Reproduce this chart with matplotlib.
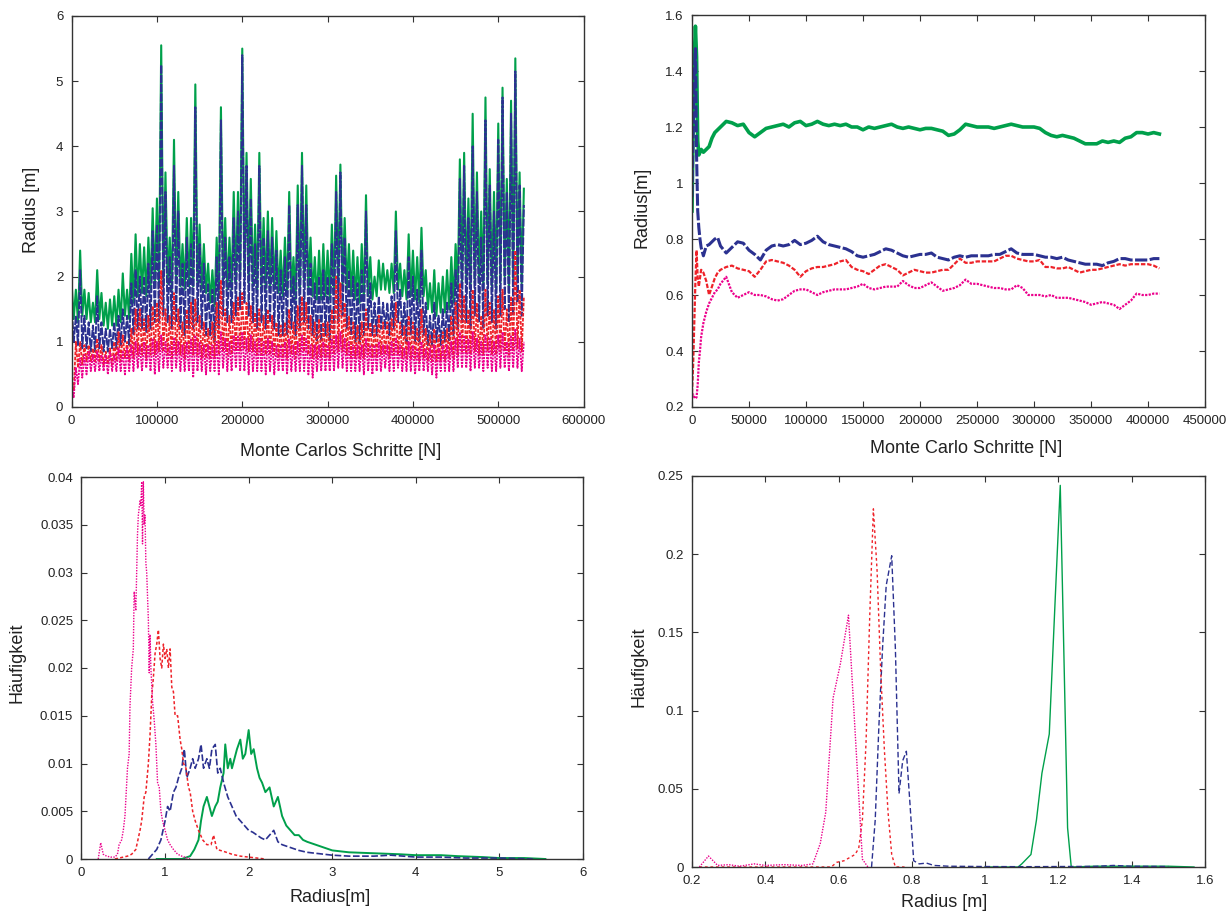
import numpy as np
import matplotlib
matplotlib.use("Agg")
import matplotlib.pyplot as plt

plt.rcParams['font.family'] = ['Liberation Sans', 'DejaVu Sans']

# ---------------- colours ----------------
C_GREEN = '#00A04B'
C_BLUE = '#2B3190'
C_RED = '#EE2229'
C_MAG = '#EC008C'

# ---------------- panel 1: raw Monte Carlo traces (max / min per 5000 steps) ----------------
trace_bin = 5000
green_hi = [1.9, 1.8, 2.4, 1.8, 1.75, 1.6, 2.1, 1.75, 1.6, 1.65,
            1.7, 1.8, 2.05, 1.8, 2.35, 2.65, 2.5, 2.45, 2.6, 3.05,
            3.2, 5.55, 3.6, 2.6, 4.1, 3.3, 2.5, 2.9, 2.9, 4.95,
            2.8, 2.5, 2.2, 2.1, 2.6, 4.6, 2.9, 2.6, 3.3, 3.3,
            5.5, 3.9, 3.5, 2.8, 3.9, 2.9, 3.0, 2.9, 2.7, 2.4,
            2.6, 3.3, 2.3, 3.4, 3.9, 3.4, 2.6, 2.3, 2.4, 2.5,
            2.4, 2.8, 3.55, 3.72, 2.9, 2.5, 2.4, 2.3, 2.5, 3.25,
            2.3, 2.0, 2.25, 2.2, 2.1, 2.2, 3.0, 2.2, 2.1, 2.65,
            2.4, 2.3, 2.75, 2.1, 1.9, 2.1, 1.9, 2.0, 2.1, 2.3,
            2.5, 3.8, 3.9, 3.2, 4.5, 3.6, 3.0, 4.75, 3.65, 3.3,
            4.35, 4.9, 3.5, 4.7, 5.35, 3.6, 3.35]
green_lo = [1.35, 1.3, 1.4, 1.35, 1.3, 1.3, 1.35, 1.25, 1.2, 1.25,
            1.25, 1.3, 1.4, 1.35, 1.6, 1.7, 1.75, 1.7, 1.8, 1.85,
            1.9, 1.9, 1.9, 1.8, 1.9, 1.85, 1.8, 1.85, 1.85, 1.9,
            1.8, 1.75, 1.6, 1.55, 1.7, 1.9, 1.8, 1.8, 1.9, 2.0,
            2.0, 1.9, 1.85, 1.8, 1.85, 1.8, 1.8, 1.8, 1.75, 1.7,
            1.7, 1.75, 1.65, 1.75, 1.85, 1.8, 1.7, 1.65, 1.65, 1.7,
            1.65, 1.75, 1.85, 1.85, 1.8, 1.7, 1.65, 1.6, 1.65, 1.7,
            1.65, 1.7, 1.8, 1.8, 1.75, 1.75, 1.8, 1.7, 1.65, 1.7,
            1.65, 1.6, 1.7, 1.5, 1.45, 1.4, 1.45, 1.45, 1.5, 1.6,
            1.8, 1.9, 1.9, 1.8, 1.9, 1.9, 1.8, 1.9, 1.85, 1.8,
            1.9, 2.0, 1.85, 1.9, 2.0, 1.9, 1.9]
blue_hi = [1.6, 1.4, 2.1, 1.4, 1.3, 1.25, 1.7, 1.3, 1.2, 1.2,
           1.3, 1.4, 1.5, 1.4, 1.9, 2.1, 2.0, 2.0, 2.2, 2.7,
           2.8, 5.25, 3.3, 2.3, 3.7, 3.0, 2.2, 2.6, 2.5, 4.6,
           2.5, 2.2, 1.9, 1.8, 2.3, 4.4, 2.6, 2.3, 2.9, 3.0,
           5.4, 3.7, 3.2, 2.5, 3.7, 2.6, 2.7, 2.6, 2.4, 2.1,
           2.3, 3.1, 2.0, 3.1, 3.7, 3.1, 2.2, 1.9, 2.0, 2.1,
           2.0, 2.5, 3.3, 3.6, 2.6, 2.1, 2.0, 1.9, 2.1, 3.0,
           1.9, 1.6, 1.7, 1.6, 1.6, 1.7, 2.7, 1.8, 1.6, 2.3,
           2.0, 1.8, 2.4, 1.6, 1.4, 1.6, 1.4, 1.5, 1.6, 1.9,
           2.1, 3.5, 3.7, 2.9, 4.0, 3.3, 2.6, 4.4, 3.4, 3.0,
           4.1, 4.75, 3.3, 4.5, 5.15, 3.4, 3.1]
blue_lo = [1.0, 0.95, 0.9, 0.9, 0.85, 0.85, 0.9, 0.85, 0.85, 0.9,
           0.9, 0.95, 1.0, 0.95, 1.1, 1.2, 1.2, 1.15, 1.2, 1.3,
           1.3, 1.4, 1.3, 1.2, 1.3, 1.2, 1.1, 1.2, 1.2, 1.3,
           1.2, 1.1, 1.1, 1.0, 1.2, 1.4, 1.3, 1.3, 1.4, 1.5,
           1.6, 1.4, 1.3, 1.2, 1.3, 1.2, 1.3, 1.2, 1.1, 1.1,
           1.1, 1.2, 1.1, 1.2, 1.3, 1.2, 1.1, 1.0, 1.0, 1.1,
           1.0, 1.2, 1.3, 1.4, 1.2, 1.1, 1.0, 1.0, 1.1, 1.2,
           1.1, 1.1, 1.2, 1.2, 1.1, 1.2, 1.3, 1.1, 1.0, 1.1,
           1.0, 1.0, 1.1, 0.95, 0.95, 1.0, 0.95, 1.0, 1.0, 1.1,
           1.2, 1.3, 1.3, 1.2, 1.4, 1.3, 1.2, 1.4, 1.3, 1.2,
           1.4, 1.5, 1.3, 1.4, 1.6, 1.4, 1.3]
red_hi = [0.4, 1.0, 1.0, 0.95, 0.95, 0.9, 1.05, 0.95, 0.85, 0.9,
          1.0, 1.15, 1.1, 1.0, 1.2, 1.5, 1.5, 1.35, 1.4, 1.55,
          1.6, 2.1, 1.5, 1.4, 1.75, 1.5, 1.3, 1.5, 1.6, 1.65,
          1.4, 1.3, 1.2, 1.3, 1.6, 1.95, 1.5, 1.4, 1.6, 1.7,
          1.75, 1.6, 1.55, 1.45, 1.5, 1.4, 1.5, 1.4, 1.3, 1.25,
          1.3, 1.5, 1.3, 1.55, 1.7, 1.6, 1.4, 1.3, 1.35, 1.3,
          1.3, 1.5, 2.0, 1.9, 1.6, 1.4, 1.3, 1.25, 1.3, 1.5,
          1.3, 1.25, 1.4, 1.3, 1.3, 1.35, 1.6, 1.3, 1.25, 1.4,
          1.3, 1.2, 1.5, 1.2, 1.1, 1.2, 1.1, 1.15, 1.2, 1.4,
          1.6, 1.9, 1.7, 1.5, 1.8, 1.6, 1.4, 1.8, 1.6, 1.5,
          1.7, 1.8, 1.5, 1.7, 2.4, 1.8, 1.7]
red_lo = [0.25, 0.6, 0.65, 0.7, 0.7, 0.7, 0.7, 0.65, 0.65, 0.65,
          0.7, 0.7, 0.75, 0.7, 0.75, 0.8, 0.8, 0.75, 0.8, 0.8,
          0.85, 0.85, 0.8, 0.75, 0.8, 0.8, 0.75, 0.8, 0.8, 0.8,
          0.75, 0.75, 0.75, 0.75, 0.8, 0.85, 0.8, 0.8, 0.85, 0.85,
          0.9, 0.85, 0.85, 0.8, 0.8, 0.8, 0.8, 0.8, 0.75, 0.75,
          0.75, 0.8, 0.75, 0.8, 0.85, 0.8, 0.75, 0.75, 0.75, 0.75,
          0.75, 0.8, 0.85, 0.85, 0.8, 0.75, 0.75, 0.75, 0.75, 0.8,
          0.75, 0.75, 0.8, 0.8, 0.75, 0.8, 0.8, 0.75, 0.75, 0.75,
          0.75, 0.7, 0.75, 0.7, 0.7, 0.7, 0.7, 0.7, 0.75, 0.75,
          0.8, 0.85, 0.8, 0.8, 0.85, 0.8, 0.8, 0.85, 0.8, 0.8,
          0.85, 0.85, 0.8, 0.85, 0.9, 0.85, 0.8]
mag_hi = [0.3, 0.6, 0.75, 0.8, 0.85, 0.8, 0.85, 0.8, 0.8, 0.85,
          0.8, 0.9, 0.85, 0.9, 0.95, 1.0, 0.95, 1.0, 0.95, 1.05,
          1.0, 1.1, 1.0, 0.95, 1.05, 1.0, 0.95, 1.0, 1.05, 1.1,
          1.0, 0.95, 0.95, 0.95, 1.0, 1.15, 1.05, 1.0, 1.1, 1.1,
          1.15, 1.05, 1.1, 1.0, 1.05, 1.0, 1.05, 1.0, 0.95, 0.95,
          1.0, 1.05, 0.95, 1.0, 1.1, 1.05, 0.95, 0.95, 0.95, 1.0,
          0.95, 1.05, 1.1, 1.15, 1.05, 1.0, 0.95, 0.95, 0.95, 1.05,
          0.95, 0.95, 1.0, 0.95, 0.95, 1.0, 1.05, 0.95, 0.9, 1.0,
          0.95, 0.9, 1.0, 0.9, 0.9, 0.95, 0.9, 0.95, 0.95, 1.0,
          1.05, 1.15, 1.1, 1.05, 1.15, 1.05, 1.0, 1.1, 1.05, 1.0,
          1.1, 1.15, 1.0, 1.1, 1.2, 1.05, 1.0]
mag_lo = [0.15, 0.35, 0.45, 0.5, 0.55, 0.55, 0.55, 0.55, 0.5, 0.55,
          0.55, 0.55, 0.5, 0.55, 0.55, 0.6, 0.55, 0.6, 0.55, 0.5,
          0.55, 0.6, 0.6, 0.55, 0.6, 0.55, 0.55, 0.55, 0.45, 0.55,
          0.55, 0.5, 0.55, 0.55, 0.5, 0.6, 0.55, 0.55, 0.6, 0.55,
          0.55, 0.5, 0.55, 0.55, 0.55, 0.5, 0.55, 0.5, 0.55, 0.55,
          0.5, 0.55, 0.55, 0.55, 0.55, 0.5, 0.45, 0.55, 0.55, 0.55,
          0.55, 0.55, 0.6, 0.6, 0.55, 0.55, 0.55, 0.55, 0.5, 0.55,
          0.5, 0.55, 0.55, 0.6, 0.55, 0.55, 0.6, 0.55, 0.55, 0.55,
          0.5, 0.55, 0.55, 0.55, 0.5, 0.45, 0.55, 0.55, 0.55, 0.55,
          0.6, 0.6, 0.6, 0.55, 0.6, 0.6, 0.55, 0.6, 0.55, 0.55,
          0.6, 0.6, 0.55, 0.6, 0.6, 0.55, 0.6]

# ---------------- panel 2: running mean radius ----------------
mean_steps = [0, 1000, 2000, 3000, 4000, 5000, 6000, 7000, 8000, 10000,
              12500, 15000, 17500, 20000, 22500, 25000] + list(range(30000, 410001, 5000))
mean_green = [0.9, 1.2, 1.45, 1.56, 1.45, 1.15, 1.1, 1.11, 1.12, 1.11,
              1.12, 1.13, 1.16, 1.18, 1.19, 1.2,
              1.22, 1.215, 1.205, 1.21, 1.18, 1.165, 1.18, 1.195, 1.2, 1.205,
              1.21, 1.2, 1.215, 1.22, 1.205, 1.21, 1.22, 1.21, 1.205, 1.21,
              1.205, 1.21, 1.2, 1.2, 1.19, 1.2, 1.195, 1.2, 1.205, 1.21,
              1.2, 1.195, 1.2, 1.195, 1.19, 1.195, 1.195, 1.19, 1.185, 1.17,
              1.175, 1.19, 1.21, 1.205, 1.2, 1.2, 1.2, 1.195, 1.2, 1.205,
              1.21, 1.205, 1.2, 1.2, 1.2, 1.195, 1.18, 1.17, 1.165, 1.17,
              1.165, 1.16, 1.15, 1.14, 1.14, 1.14, 1.15, 1.145, 1.15, 1.145,
              1.16, 1.165, 1.18, 1.18, 1.175, 1.18, 1.175]
mean_blue = [0.95, 1.2, 1.4, 1.48, 1.1, 0.9, 0.84, 0.8, 0.77, 0.74,
             0.775, 0.78, 0.79, 0.8, 0.805, 0.775,
             0.75, 0.77, 0.79, 0.785, 0.76, 0.745, 0.725, 0.76, 0.775, 0.78,
             0.775, 0.78, 0.795, 0.78, 0.785, 0.795, 0.81, 0.79, 0.78, 0.775,
             0.77, 0.765, 0.755, 0.74, 0.735, 0.74, 0.745, 0.755, 0.765, 0.76,
             0.75, 0.74, 0.735, 0.74, 0.745, 0.745, 0.75, 0.735, 0.73, 0.725,
             0.735, 0.74, 0.735, 0.74, 0.74, 0.74, 0.74, 0.745, 0.745, 0.755,
             0.765, 0.75, 0.745, 0.745, 0.745, 0.74, 0.735, 0.735, 0.73, 0.735,
             0.725, 0.72, 0.715, 0.71, 0.71, 0.71, 0.705, 0.715, 0.72, 0.73,
             0.73, 0.725, 0.725, 0.725, 0.725, 0.73, 0.73]
mean_red = [0.25, 0.35, 0.5, 0.65, 0.76, 0.66, 0.63, 0.66, 0.69, 0.68,
            0.65, 0.6, 0.63, 0.66, 0.68, 0.69,
            0.7, 0.705, 0.695, 0.69, 0.685, 0.665, 0.69, 0.72, 0.725, 0.72,
            0.715, 0.705, 0.69, 0.665, 0.685, 0.695, 0.7, 0.7, 0.705, 0.71,
            0.72, 0.725, 0.7, 0.69, 0.685, 0.675, 0.69, 0.705, 0.71, 0.7,
            0.69, 0.67, 0.68, 0.69, 0.685, 0.68, 0.68, 0.685, 0.69, 0.69,
            0.71, 0.73, 0.715, 0.715, 0.72, 0.72, 0.72, 0.72, 0.73, 0.74,
            0.74, 0.73, 0.725, 0.72, 0.72, 0.725, 0.7, 0.7, 0.695, 0.695,
            0.7, 0.69, 0.68, 0.685, 0.69, 0.69, 0.695, 0.7, 0.705, 0.71,
            0.705, 0.71, 0.71, 0.71, 0.71, 0.705, 0.695]
mean_mag = [0.24, 0.245, 0.235, 0.23, 0.235, 0.28, 0.36, 0.4, 0.45, 0.5,
            0.54, 0.57, 0.59, 0.61, 0.62, 0.64,
            0.665, 0.61, 0.59, 0.6, 0.61, 0.6, 0.6, 0.595, 0.585, 0.58,
            0.585, 0.6, 0.615, 0.62, 0.62, 0.61, 0.6, 0.61, 0.615, 0.62,
            0.62, 0.62, 0.625, 0.63, 0.64, 0.625, 0.62, 0.625, 0.63, 0.63,
            0.63, 0.65, 0.635, 0.625, 0.625, 0.635, 0.645, 0.63, 0.615, 0.62,
            0.625, 0.635, 0.655, 0.64, 0.64, 0.635, 0.63, 0.625, 0.625, 0.62,
            0.62, 0.635, 0.625, 0.6, 0.6, 0.6, 0.595, 0.6, 0.59, 0.59,
            0.59, 0.585, 0.58, 0.575, 0.565, 0.57, 0.575, 0.57, 0.565, 0.55,
            0.565, 0.58, 0.605, 0.6, 0.6, 0.605, 0.605]

# ---------------- panel 3: radius histograms of the raw traces ----------------
h1_mag_r = [0.2, 0.23, 0.26, 0.3, 0.35, 0.4, 0.43, 0.45, 0.48, 0.5,
            0.52, 0.55, 0.57, 0.58, 0.6, 0.62, 0.63, 0.65, 0.67, 0.68,
            0.7, 0.71, 0.72, 0.73, 0.74, 0.75, 0.76, 0.77, 0.78, 0.8,
            0.81, 0.82, 0.83, 0.85, 0.87, 0.89, 0.91, 0.93, 0.95, 0.97,
            1.0, 1.03, 1.06, 1.1, 1.15, 1.2, 1.3]
h1_mag_f = [0.0, 0.0017, 0.0005, 0.0003, 0.0002, 0.0002, 0.0005, 0.0015, 0.002, 0.003,
            0.0045, 0.0095, 0.011, 0.016, 0.02, 0.022, 0.028, 0.026, 0.034, 0.036,
            0.0375, 0.037, 0.0395, 0.033, 0.0395, 0.035, 0.036, 0.031, 0.03, 0.025,
            0.0195, 0.0235, 0.02, 0.0165, 0.0145, 0.012, 0.008, 0.0075, 0.005, 0.004,
            0.003, 0.002, 0.0015, 0.001, 0.0005, 0.0003, 0.0]
h1_red_r = [0.4, 0.5, 0.55, 0.6, 0.65, 0.7, 0.72, 0.75, 0.77, 0.8,
            0.82, 0.84, 0.86, 0.88, 0.9, 0.92, 0.94, 0.96, 0.98, 1.0,
            1.02, 1.04, 1.06, 1.08, 1.1, 1.12, 1.15, 1.18, 1.2, 1.22,
            1.25, 1.28, 1.3, 1.33, 1.36, 1.4, 1.45, 1.5, 1.55, 1.58,
            1.62, 1.7, 1.8, 1.9, 2.0, 2.1, 2.2]
h1_red_f = [0.0, 0.0002, 0.0003, 0.0005, 0.001, 0.003, 0.004, 0.0065, 0.007, 0.01,
            0.013, 0.017, 0.019, 0.0215, 0.0225, 0.024, 0.021, 0.02, 0.0225, 0.021,
            0.022, 0.02, 0.022, 0.018, 0.0175, 0.015, 0.015, 0.0125, 0.0115, 0.01,
            0.0095, 0.0075, 0.007, 0.005, 0.004, 0.003, 0.002, 0.0015, 0.0015, 0.0025,
            0.001, 0.0008, 0.0005, 0.0003, 0.0002, 0.0001, 0.0]
h1_blue_r = [0.8, 0.85, 0.9, 0.95, 1.0, 1.03, 1.06, 1.1, 1.13, 1.16,
             1.2, 1.23, 1.26, 1.3, 1.33, 1.36, 1.4, 1.43, 1.46, 1.5,
             1.53, 1.56, 1.6, 1.63, 1.66, 1.7, 1.75, 1.8, 1.85, 1.9,
             1.95, 2.0, 2.05, 2.1, 2.15, 2.2, 2.25, 2.3, 2.35, 2.4,
             2.5, 2.6, 2.7, 2.8, 3.0, 3.2, 3.5, 3.7, 4.0, 4.3,
             4.6, 5.0, 5.4]
h1_blue_f = [0.0, 0.0005, 0.001, 0.002, 0.004, 0.0055, 0.005, 0.007, 0.0075, 0.0085,
             0.0095, 0.0115, 0.0085, 0.0095, 0.0105, 0.0095, 0.0105, 0.012, 0.0095, 0.0105,
             0.0095, 0.0115, 0.012, 0.009, 0.0095, 0.008, 0.0065, 0.0055, 0.0045, 0.004,
             0.0035, 0.003, 0.0028, 0.0025, 0.0022, 0.002, 0.0025, 0.003, 0.0018, 0.0015,
             0.0012, 0.0009, 0.0007, 0.0006, 0.0004, 0.0003, 0.0003, 0.0004, 0.0002, 0.0002,
             0.0001, 0.0001, 0.0]
h1_green_r = [0.9, 1.2, 1.3, 1.35, 1.4, 1.43, 1.46, 1.5, 1.53, 1.56,
              1.6, 1.63, 1.66, 1.7, 1.72, 1.75, 1.78, 1.8, 1.83, 1.86,
              1.9, 1.93, 1.96, 2.0, 2.03, 2.06, 2.1, 2.13, 2.16, 2.2,
              2.25, 2.3, 2.35, 2.4, 2.45, 2.5, 2.55, 2.6, 2.65, 2.7,
              2.8, 2.9, 3.0, 3.2, 3.5, 3.8, 4.0, 4.3, 4.5, 4.8,
              5.0, 5.3, 5.55]
h1_green_f = [0.0, 0.0, 0.0003, 0.001, 0.002, 0.004, 0.0055, 0.0065, 0.0055, 0.0045,
              0.0055, 0.006, 0.0075, 0.009, 0.012, 0.0095, 0.0105, 0.0095, 0.0105, 0.0115,
              0.0125, 0.0105, 0.011, 0.0135, 0.011, 0.0115, 0.0095, 0.0085, 0.008, 0.007,
              0.0075, 0.0055, 0.0065, 0.0045, 0.0035, 0.003, 0.0025, 0.0025, 0.002, 0.0018,
              0.0015, 0.0012, 0.0009, 0.0007, 0.0006, 0.0005, 0.0004, 0.0004, 0.0003, 0.0002,
              0.0001, 0.0001, 0.0]

# ---------------- panel 4: histograms of the running means ----------------
h2_mag_r = [0.22, 0.245, 0.27, 0.3, 0.33, 0.37, 0.4, 0.45, 0.5, 0.53,
            0.55, 0.565, 0.585, 0.605, 0.627, 0.665, 0.68]
h2_mag_f = [0.0, 0.007, 0.001, 0.0015, 0.0005, 0.002, 0.001, 0.0015, 0.001, 0.002,
            0.015, 0.035, 0.108, 0.13, 0.161, 0.005, 0.0]
h2_red_r = [0.22, 0.4, 0.58, 0.595, 0.615, 0.63, 0.645, 0.655, 0.665, 0.675,
            0.685, 0.695, 0.705, 0.715, 0.725, 0.735, 0.745, 0.755, 0.78]
h2_red_f = [0.0, 0.0, 0.0, 0.003, 0.004, 0.006, 0.008, 0.012, 0.03, 0.08,
            0.16, 0.229, 0.19, 0.125, 0.075, 0.035, 0.008, 0.0, 0.0]
h2_blue_r = [0.69, 0.7, 0.71, 0.72, 0.73, 0.745, 0.755, 0.765, 0.775, 0.785,
             0.795, 0.805, 0.82, 0.84, 0.86, 0.9, 1.0, 1.1, 1.2, 1.3,
             1.35, 1.4, 1.5]
h2_blue_f = [0.0, 0.03, 0.09, 0.14, 0.18, 0.199, 0.14, 0.047, 0.068, 0.074,
             0.04, 0.004, 0.002, 0.0025, 0.001, 0.0005, 0.0003, 0.0002, 0.0003, 0.0004,
             0.001, 0.0005, 0.0003]
h2_green_r = [1.0, 1.09, 1.1, 1.125, 1.14, 1.155, 1.175, 1.19, 1.205, 1.215,
              1.225, 1.235, 1.3, 1.4, 1.5, 1.57]
h2_green_f = [0.0, 0.0, 0.002, 0.008, 0.03, 0.06, 0.085, 0.165, 0.244, 0.135,
              0.025, 0.0, 0.0005, 0.0005, 0.0005, 0.0]

# ---------------- tick labels ----------------
tl_xticks = [0, 100000, 200000, 300000, 400000, 500000, 600000]
tl_yticks = [0, 1, 2, 3, 4, 5, 6]
tr_xticks = [0, 50000, 100000, 150000, 200000, 250000, 300000, 350000, 400000, 450000]
tr_yticks = [0.2, 0.4, 0.6, 0.8, 1.0, 1.2, 1.4, 1.6]
tr_ylabels = ['0.2', '0.4', '0.6', '0.8', '1', '1.2', '1.4', '1.6']
bl_xticks = [0, 1, 2, 3, 4, 5, 6]
bl_yticks = [0, 0.005, 0.01, 0.015, 0.02, 0.025, 0.03, 0.035, 0.04]
bl_ylabels = ['0', '0.005', '0.01', '0.015', '0.02', '0.025', '0.03', '0.035', '0.04']
br_xticks = [0.2, 0.4, 0.6, 0.8, 1.0, 1.2, 1.4, 1.6]
br_xlabels = ['0.2', '0.4', '0.6', '0.8', '1', '1.2', '1.4', '1.6']
br_yticks = [0, 0.05, 0.1, 0.15, 0.2, 0.25]
br_ylabels = ['0', '0.05', '0.1', '0.15', '0.2', '0.25']

TICK_FS = 9.5
LABEL_FS = 13
TEXT_C = '#222222'

W, H = 1231, 914
fig = plt.figure(figsize=(W / 100, H / 100), dpi=100)


def px_axes(left, top, right, bottom):
    return fig.add_axes([left / W, 1 - bottom / H, (right - left) / W, (bottom - top) / H])


def style(ax, xticks, yticks, xlabels=None, ylabels=None):
    ax.set_xticks(xticks)
    ax.set_yticks(yticks)
    ax.set_xticklabels(xlabels if xlabels else [str(t) for t in xticks])
    ax.set_yticklabels(ylabels if ylabels else [str(t) for t in yticks])
    ax.tick_params(direction='in', length=4, width=0.8, top=True, right=True,
                   labelsize=TICK_FS, colors='#333333', labelcolor=TEXT_C, pad=6)
    for s in ax.spines.values():
        s.set_linewidth(1.0)
        s.set_color('#333333')


def set_labels(ax, xlabel, ylabel, xpos, ypos):
    ax.set_xlabel(xlabel, fontsize=LABEL_FS, color=TEXT_C)
    ax.set_ylabel(ylabel, fontsize=LABEL_FS, color=TEXT_C)
    ax.xaxis.label.set_va('center')
    ax.yaxis.label.set_va('center')
    ax.xaxis.set_label_coords(*xpos)
    ax.yaxis.set_label_coords(*ypos)


def zigzag(hi, lo, step):
    hi = np.asarray(hi, float)
    lo = np.asarray(lo, float)
    n = len(hi)
    xs = np.column_stack([np.arange(n) * step, np.arange(n) * step + step / 2]).ravel()[:-1]
    ys = np.column_stack([hi, lo]).ravel()[:-1]
    return xs, ys


# ---- top left ----
ax1 = px_axes(71.6, 16, 583.6, 407)
for hi, lo, col, ls, lw in [(green_hi, green_lo, C_GREEN, '-', 1.5),
                            (blue_hi, blue_lo, C_BLUE, (0, (4, 0.8)), 1.4),
                            (red_hi, red_lo, C_RED, (0, (2, 0.8)), 1.3),
                            (mag_hi, mag_lo, C_MAG, (0, (1.2, 0.6)), 1.3)]:
    xs, ys = zigzag(hi, lo, trace_bin)
    ax1.plot(xs, ys, color=col, ls=ls, lw=lw)
ax1.set_xlim(0, 600000)
ax1.set_ylim(0, 6)
style(ax1, tl_xticks, tl_yticks)
set_labels(ax1, 'Monte Carlos Schritte [N]', 'Radius [m]', (0.526, -0.115), (-0.079, 0.504))

# ---- top right ----
ax2 = px_axes(692, 15, 1205, 407)
ax2.plot(mean_steps, mean_green, color=C_GREEN, lw=2.6)
ax2.plot(mean_steps, mean_blue, color=C_BLUE, lw=2.2, ls=(0, (4, 0.8)))
ax2.plot(mean_steps, mean_red, color=C_RED, lw=1.6, ls=(0, (2, 0.8)))
ax2.plot(mean_steps, mean_mag, color=C_MAG, lw=1.6, ls=(0, (1, 0.6)))
ax2.set_xlim(0, 450000)
ax2.set_ylim(0.2, 1.6)
style(ax2, tr_xticks, tr_yticks, ylabels=tr_ylabels)
set_labels(ax2, 'Monte Carlo Schritte [N]', 'Radius[m]', (0.534, -0.105), (-0.0965, 0.51))

# ---- bottom left ----
ax3 = px_axes(81.5, 477, 583, 859)
ax3.plot(h1_green_r, h1_green_f, color=C_GREEN, lw=1.4)
ax3.plot(h1_blue_r, h1_blue_f, color=C_BLUE, lw=1.2, ls=(0, (4, 1.5)))
ax3.plot(h1_red_r, h1_red_f, color=C_RED, lw=1.1, ls=(0, (2, 1.5)))
ax3.plot(h1_mag_r, h1_mag_f, color=C_MAG, lw=1.0, ls=(0, (1, 1)))
ax3.set_xlim(0, 6)
ax3.set_ylim(0, 0.04)
style(ax3, bl_xticks, bl_yticks, ylabels=bl_ylabels)
set_labels(ax3, 'Radius[m]', 'Häufigkeit', (0.496, -0.102), (-0.129, 0.513))

# ---- bottom right ----
ax4 = px_axes(692, 476, 1205, 867)
ax4.plot(h2_green_r, h2_green_f, color=C_GREEN, lw=1.0)
ax4.plot(h2_blue_r, h2_blue_f, color=C_BLUE, lw=1.0, ls=(0, (4, 2)))
ax4.plot(h2_red_r, h2_red_f, color=C_RED, lw=1.0, ls=(0, (2, 2)))
ax4.plot(h2_mag_r, h2_mag_f, color=C_MAG, lw=1.0, ls=(0, (1, 1)))
ax4.set_xlim(0.2, 1.6)
ax4.set_ylim(0, 0.25)
style(ax4, br_xticks, br_yticks, xlabels=br_xlabels, ylabels=br_ylabels)
set_labels(ax4, 'Radius [m]', 'Häufigkeit', (0.491, -0.092), (-0.104, 0.512))

fig.savefig('out.png', dpi=100)
